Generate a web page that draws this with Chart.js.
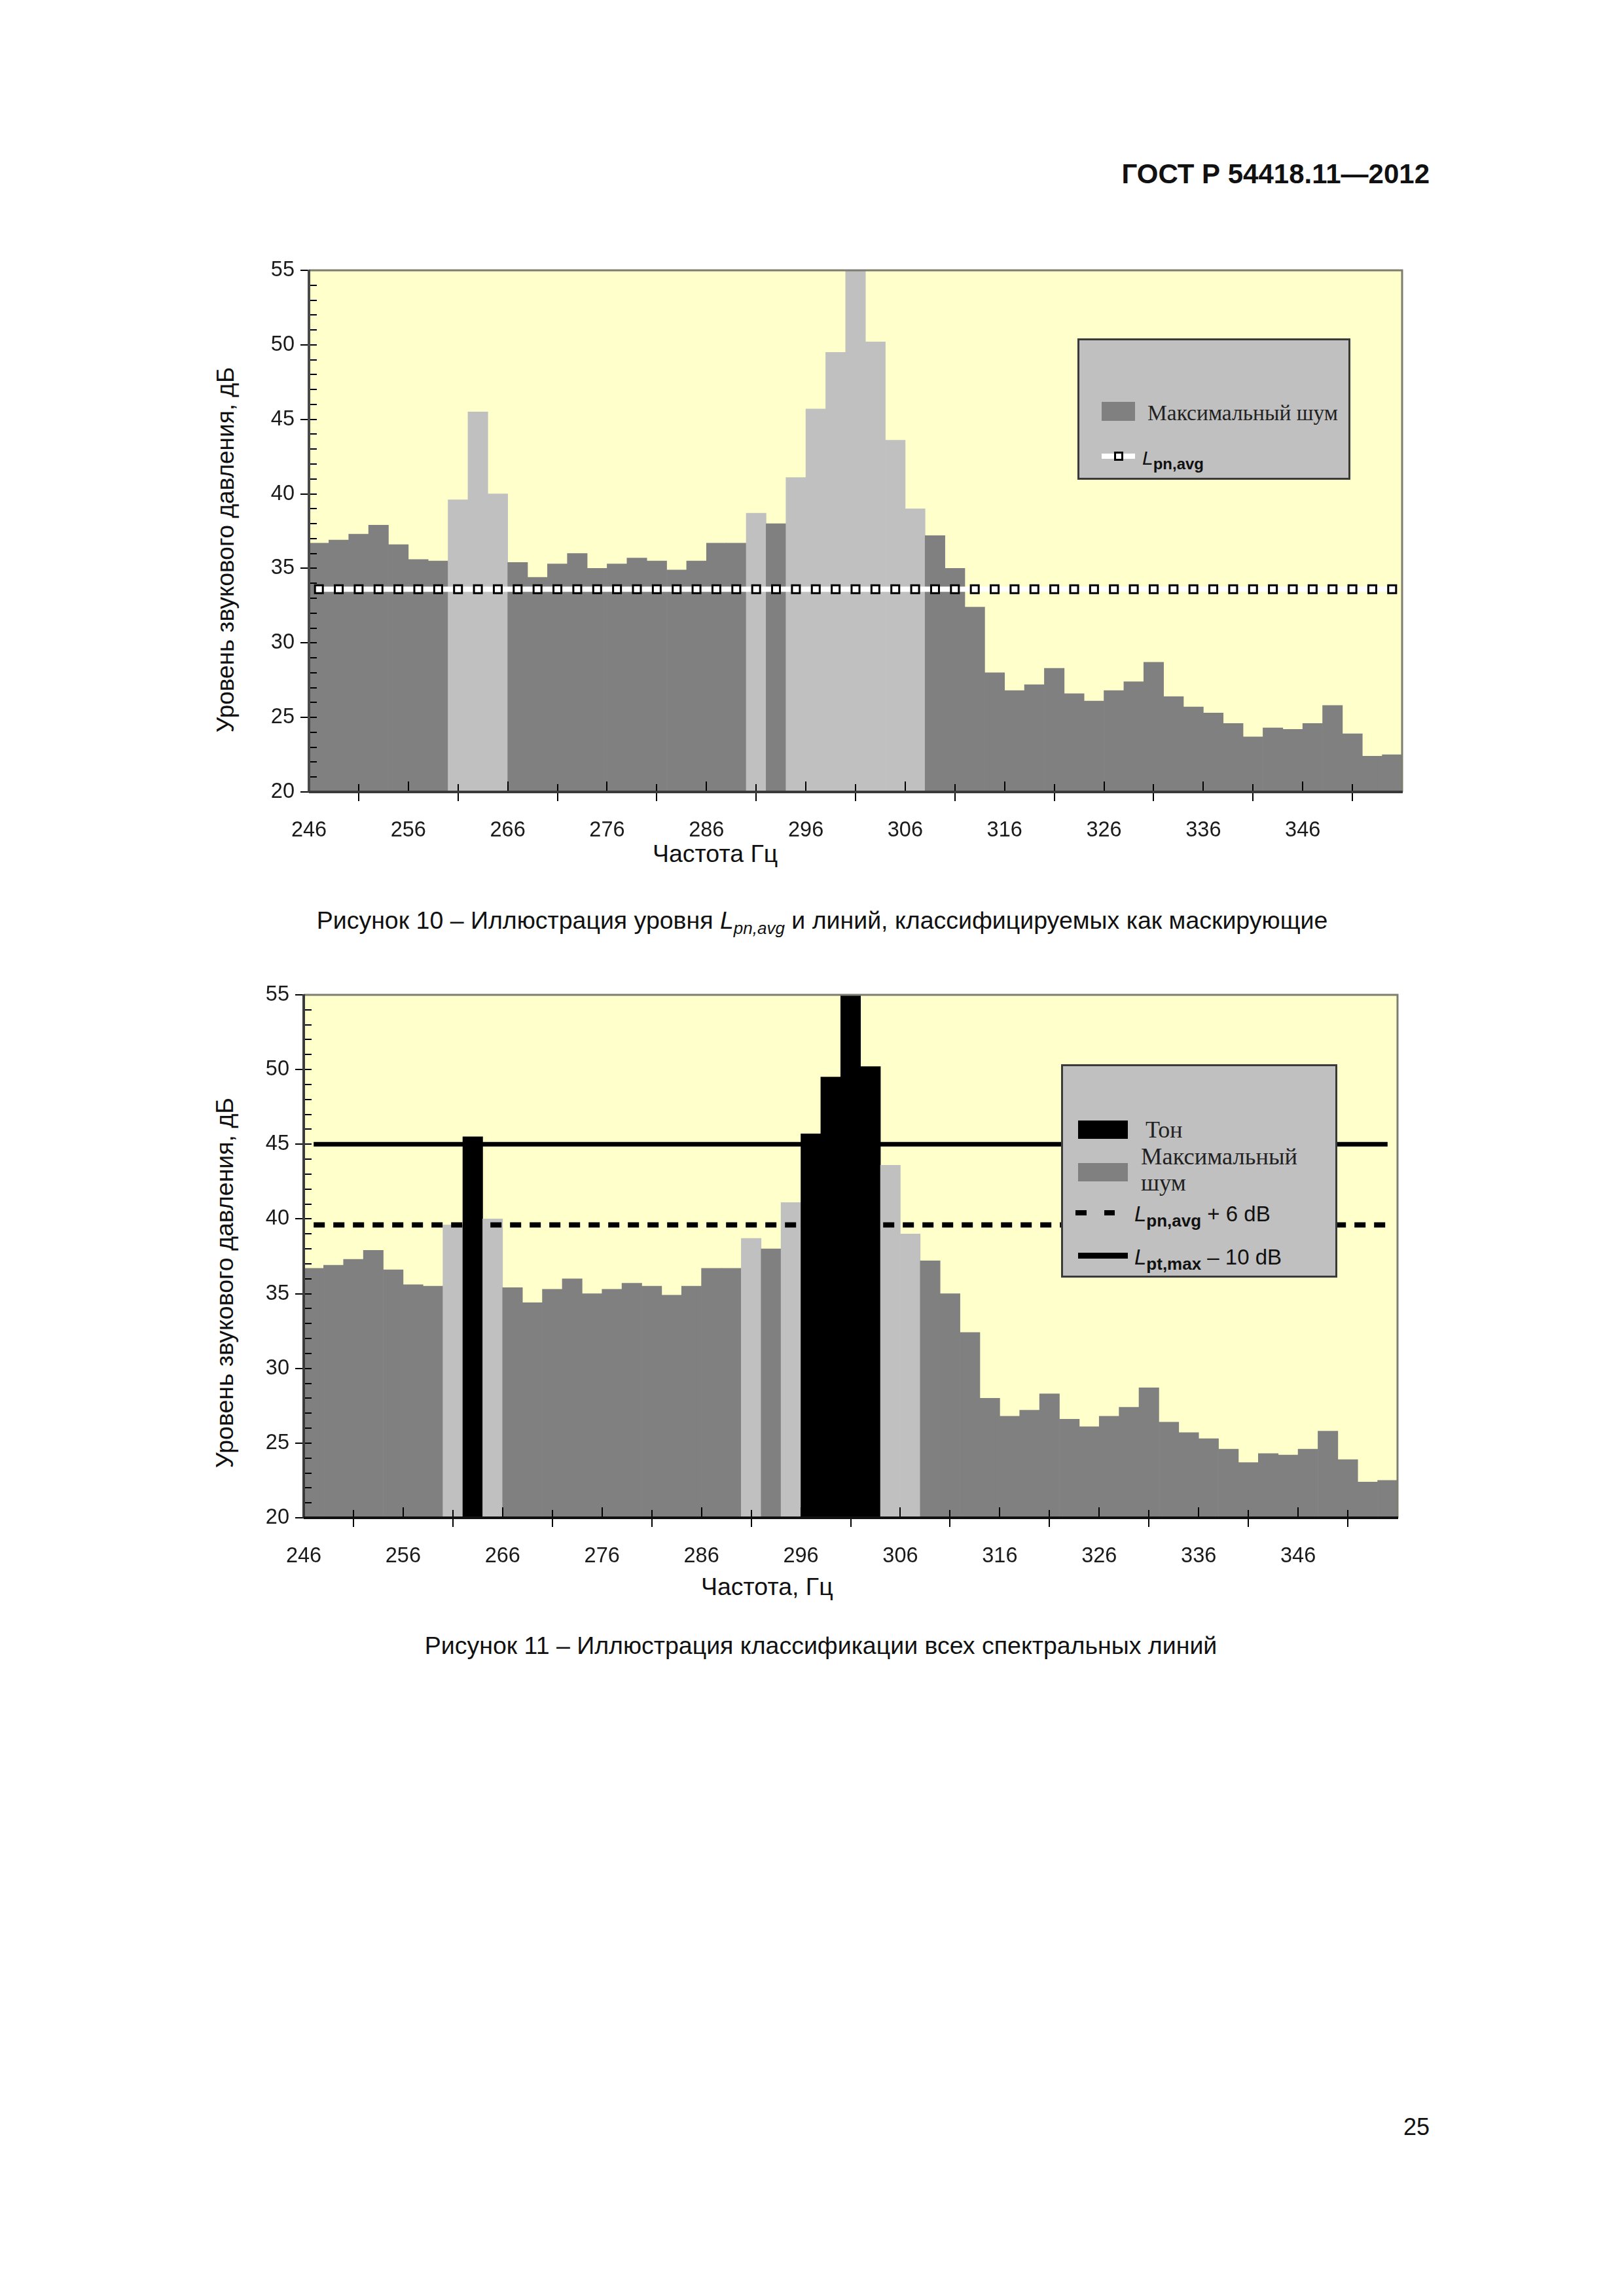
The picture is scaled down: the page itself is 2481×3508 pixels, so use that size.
<!DOCTYPE html>
<html><head><meta charset="utf-8">
<script src="https://cdn.jsdelivr.net/npm/chart.js@4.4.0/dist/chart.umd.min.js"></script>
<style>
html,body{margin:0;padding:0;background:#fff;}
body{width:2481px;height:3508px;position:relative;overflow:hidden;font-family:"Liberation Sans",Arial,sans-serif;color:#111;}
.t{position:absolute;white-space:nowrap;line-height:1;}
.box{position:absolute;box-sizing:border-box;}
canvas{position:absolute;}
</style></head><body>
<div id="page"></div>
<canvas id="c10"></canvas>
<canvas id="c11"></canvas>
<script>
// ---------------- DATA ----------------
// centres of the 2 Hz spectral lines, Hz
const freqs = [247,249,251,253,255,257,259,261,263,265,267,269,271,273,275,277,279,281,283,285,
               287,289,291,293,295,297,299,301,303,305,307,309,311,313,315,317,319,321,323,325,
               327,329,331,333,335,337,339,341,343,345,347,349,351,353,355];
// maximum level of each spectral line, dB
const levels = [36.7,36.9,37.3,37.9,36.6,35.6,35.5,39.6,45.5,40.0,
                35.4,34.4,35.3,36.0,35.0,35.3,35.7,35.5,34.9,35.5,
                36.7,36.7,38.7,38.0,41.1,45.7,49.5,55.0,50.2,43.6,
                39.0,37.2,35.0,32.4,28.0,26.8,27.2,28.3,26.6,26.1,
                26.8,27.4,28.7,26.4,25.7,25.3,24.6,23.7,24.3,24.2,
                24.6,25.8,23.9,22.4,22.5];
// classification, figure 10: N = noise (Максимальный шум), M = masking
const class10 = ['N','N','N','N','N','N','N','M','M','M','N','N','N','N','N','N','N','N','N','N',
                 'N','N','M','N','M','M','M','M','M','M','M','N','N','N','N','N','N','N','N','N',
                 'N','N','N','N','N','N','N','N','N','N','N','N','N','N','N'];
// classification, figure 11: N = noise, M = masking, T = tone
const class11 = ['N','N','N','N','N','N','N','M','T','M','N','N','N','N','N','N','N','N','N','N',
                 'N','N','M','N','M','T','T','T','T','M','M','N','N','N','N','N','N','N','N','N',
                 'N','N','N','N','N','N','N','N','N','N','N','N','N','N','N'];
const lpnAvg = 33.6;          // L_pn,avg
const lpnAvgPlus6 = 39.6;     // L_pn,avg + 6 dB
const lptMaxMinus10 = 45.0;   // L_pt,max - 10 dB
const lineSpan10 = [246.6, 355.4];
const lineSpan11 = [247, 355];
const xRange = [246, 356];
const yRange = [20, 55];
const xMajorTicks = [246,256,266,276,286,296,306,316,326,336,346,356];
const xTickLabels = ['246','256','266','276','286','296','306','316','326','336','346',''];
const yTicks = [20,25,30,35,40,45,50,55];

// ---------------- STYLE ----------------
const classColors = {N:'#808080', M:'#c0c0c0', T:'#000000'};
const FONT = "'Liberation Sans', Arial, sans-serif";
const SERIF = "'Liberation Serif', 'Times New Roman', serif";
Chart.defaults.font.family = FONT;

const page = document.getElementById('page');
function T(html, x, base, size, opts){
  opts = opts || {};
  const fam = opts.serif ? SERIF : FONT;
  const k = opts.serif ? 0.8375 : 0.8465;
  const d = document.createElement('div');
  d.className = 't';
  d.innerHTML = html;
  d.style.fontFamily = fam;
  d.style.fontSize = size + 'px';
  d.style.top = (base - k*size) + 'px';
  if (opts.bold) d.style.fontWeight = 'bold';
  if (opts.color) d.style.color = opts.color;
  if (opts.align === 'right') { d.style.right = (2481 - x) + 'px'; }
  else if (opts.align === 'center') { d.style.left = x + 'px'; d.style.transform = 'translateX(-50%)'; }
  else d.style.left = x + 'px';
  page.appendChild(d);
  return d;
}
function B(x, y, w, h, css){
  const d = document.createElement('div');
  d.className = 'box';
  d.style.left = x+'px'; d.style.top = y+'px'; d.style.width = w+'px'; d.style.height = h+'px';
  d.style.cssText += css;
  page.appendChild(d);
  return d;
}
function VT(text, cx, cy, size){
  const d = document.createElement('div');
  d.className = 't';
  d.textContent = text;
  d.style.fontSize = size+'px';
  d.style.left = cx+'px'; d.style.top = cy+'px';
  d.style.transform = 'translate(-50%,-50%) rotate(-90deg)';
  page.appendChild(d);
}
const sub = (s, size, extra) => `<span style="font-size:${size}px;font-weight:bold;position:relative;top:${Math.round(size*0.3)}px;${extra||''}">${s}</span>`;

// ---------------- PAGE TEXT ----------------
T('ГОСТ Р 54418.11—2012', 2184, 281, 42, {bold:true, align:'right'});
VT('Уровень звукового давления, дБ', 344, 840, 37);
T('Частота Гц', 997, 1318, 37.5);
T('Рисунок 10 – Иллюстрация уровня <i>L<span style="font-size:26px;position:relative;top:8px">pn,avg</span></i> и линий, классифицируемых как маскирующие', 1256, 1420, 37.5, {align:'center'});
VT('Уровень звукового давления, дБ', 344, 1960, 37.5);
T('Частота, Гц', 1071, 2438, 37.5);
T('Рисунок 11 – Иллюстрация классификации всех спектральных линий', 1254, 2528, 37.5, {align:'center'});
T('25', 2184, 3262, 36, {align:'right'});

// ---------------- CHARTS ----------------
function framePlugin(frameCols){
  return {
    id: 'frame',
    beforeDraw(chart){
      const a = chart.chartArea, c = chart.ctx;
      c.save(); c.fillStyle = '#ffffcc';
      c.fillRect(a.left, a.top, a.right-a.left, a.bottom-a.top);
      c.restore();
    },
    afterDatasetsDraw(chart){
      const a = chart.chartArea, c = chart.ctx, xs = chart.scales.x, ys = chart.scales.y;
      c.save();
      c.strokeStyle = '#000'; c.lineWidth = 2;
      for (let v = yRange[0]+1; v < yRange[1]; v += 1){
        const y = Math.round(ys.getPixelForValue(v));
        c.beginPath(); c.moveTo(a.left, y); c.lineTo(a.left+12, y); c.stroke();
      }
      for (let v = xRange[0]+5; v < xRange[1]; v += 5){
        const x = Math.round(xs.getPixelForValue(v));
        const L = ((v - xRange[0]) % 10 === 0) ? 16 : 12;
        c.beginPath(); c.moveTo(x, a.bottom); c.lineTo(x, a.bottom - L); c.stroke();
      }
      // frame
      c.lineWidth = 3; c.strokeStyle = frameCols.top;
      c.beginPath(); c.moveTo(a.left, a.top); c.lineTo(a.right, a.top); c.lineTo(a.right, a.bottom); c.stroke();
      c.lineWidth = 4; c.strokeStyle = frameCols.left;
      c.beginPath(); c.moveTo(a.left, a.top-1); c.lineTo(a.left, a.bottom); c.stroke();
      c.strokeStyle = frameCols.bottom;
      c.beginPath(); c.moveTo(a.left, a.bottom); c.lineTo(a.right+1, a.bottom); c.stroke();
      c.restore();
    }
  };
}

function makeChart(id, plot, classes, lineSets, frameCols){
  const W = 110, H = 90, PT = 30, PR = 20;
  const cv = document.getElementById(id);
  const w = plot.r + PR - (plot.l - W);
  const h = plot.b + H - (plot.t - PT);
  cv.width = w; cv.height = h;
  cv.style.left = (plot.l - W) + 'px'; cv.style.top = (plot.t - PT) + 'px';
  cv.style.width = w + 'px'; cv.style.height = h + 'px';
  const bars = {
    type: 'bar', order: 2,
    data: freqs.map((f,i)=>({x:f, y:levels[i]})),
    backgroundColor: classes.map(c=>classColors[c]),
    borderWidth: 0, barPercentage: 1, categoryPercentage: 1
  };
  return new Chart(cv, {
    type: 'bar',
    data: { datasets: [bars, ...lineSets] },
    options: {
      responsive: false, animation: false, devicePixelRatio: 1,
      layout: { padding: { top: PT, right: PR, left: 0, bottom: 0 } },
      plugins: { legend: { display: false }, tooltip: { enabled: false } },
      scales: {
        x: {
          type: 'linear', min: xRange[0], max: xRange[1], offset: false,
          afterBuildTicks: s => { s.ticks = xMajorTicks.map(v=>({value:v})); },
          afterFit: s => { s.height = H; },
          grid: { display: true, drawOnChartArea: false, drawTicks: true, tickLength: 14, tickColor: '#000', lineWidth: 2 },
          border: { display: false },
          ticks: { autoSkip: false, maxRotation: 0, padding: 26, color: '#1a1a1a',
                   font: { size: 32.5, family: FONT },
                   callback: (v, i) => xTickLabels[i] }
        },
        y: {
          type: 'linear', min: yRange[0], max: yRange[1],
          afterBuildTicks: s => { s.ticks = yTicks.map(v=>({value:v})); },
          afterFit: s => { s.width = W; },
          grid: { display: true, drawOnChartArea: false, drawTicks: true, tickLength: 13, tickColor: '#000', lineWidth: 2 },
          border: { display: false },
          ticks: { padding: 9, color: '#1a1a1a', font: { size: 32.5, family: FONT },
                   callback: v => String(v) }
        }
      }
    },
    plugins: [framePlugin(frameCols)]
  });
}

// Figure 10
const lpnPts = [{x:lineSpan10[0], y:lpnAvg}, ...freqs.map(f=>({x:f, y:lpnAvg})), {x:lineSpan10[1], y:lpnAvg}];
makeChart('c10', {l:472, t:413, r:2148, b:1210}, class10, [
  { type:'line', order:1, data: lpnPts, borderColor:'#ffffff', borderWidth:8,
    pointStyle:'rect', pointBackgroundColor:'#ffffff', pointBorderColor:'#000000', pointBorderWidth:3,
    pointRadius: ctx => (ctx.dataIndex===0 || ctx.dataIndex===lpnPts.length-1) ? 0 : 8.5 }
], {top:'#7d7d70', left:'#4a4a4a', bottom:'#3a3a3a'});

// Figure 11
makeChart('c11', {l:464, t:1520, r:2141, b:2319}, class11, [
  { type:'line', order:1, data:[{x:lineSpan11[0], y:lpnAvgPlus6},{x:lineSpan11[1], y:lpnAvgPlus6}],
    borderColor:'#000', borderWidth:8, borderDash:[17,13], pointRadius:0 },
  { type:'line', order:1, data:[{x:lineSpan11[0], y:lptMaxMinus10},{x:lineSpan11[1], y:lptMaxMinus10}],
    borderColor:'#000', borderWidth:7, pointRadius:0 }
], {top:'#7d7d70', left:'#3a3a3a', bottom:'#111111'});

// ---------------- LEGENDS (on top of charts) ----------------
// Figure 10 legend
B(1646, 517, 417, 216, 'background:#c0c0c0;border:3px solid #3a3a3a;z-index:2;');
B(1683, 614, 51, 29, 'background:#808080;z-index:3;');
T('Максимальный шум', 1753, 642, 33.5, {serif:true, color:'#222'}).style.zIndex = 3;
B(1683, 693, 51, 8, 'background:#ffffff;z-index:3;');
B(1702, 690, 14, 14, 'background:#ffffff;border:3px solid #000;z-index:4;');
T('<i>L</i>' + sub('pn,avg', 24), 1745, 710, 30, {color:'#111'}).style.zIndex = 3;

// Figure 11 legend
B(1621, 1626, 422, 326, 'background:#c0c0c0;border:3px solid #3a3a3a;z-index:2;');
B(1647, 1712, 76, 28, 'background:#000;z-index:3;');
T('Тон', 1750, 1738, 36, {serif:true, color:'#222'}).style.zIndex = 3;
B(1647, 1777, 76, 28, 'background:#808080;z-index:3;');
T('Максимальный', 1743, 1780, 36.5, {serif:true, color:'#222'}).style.zIndex = 3;
T('шум', 1743, 1820, 36.5, {serif:true, color:'#222'}).style.zIndex = 3;
B(1643, 1849, 17, 8, 'background:#000;z-index:3;');
B(1687, 1849, 16, 8, 'background:#000;z-index:3;');
T('<i>L</i>' + sub('pn,avg', 26) + ' + 6 dB', 1733, 1866, 33, {color:'#111'}).style.zIndex = 3;
B(1647, 1914, 76, 9, 'background:#000;z-index:3;');
T('<i>L</i>' + sub('pt,max', 26) + ' – 10 dB', 1733, 1932, 33, {color:'#111'}).style.zIndex = 3;
</script>
</body></html>
